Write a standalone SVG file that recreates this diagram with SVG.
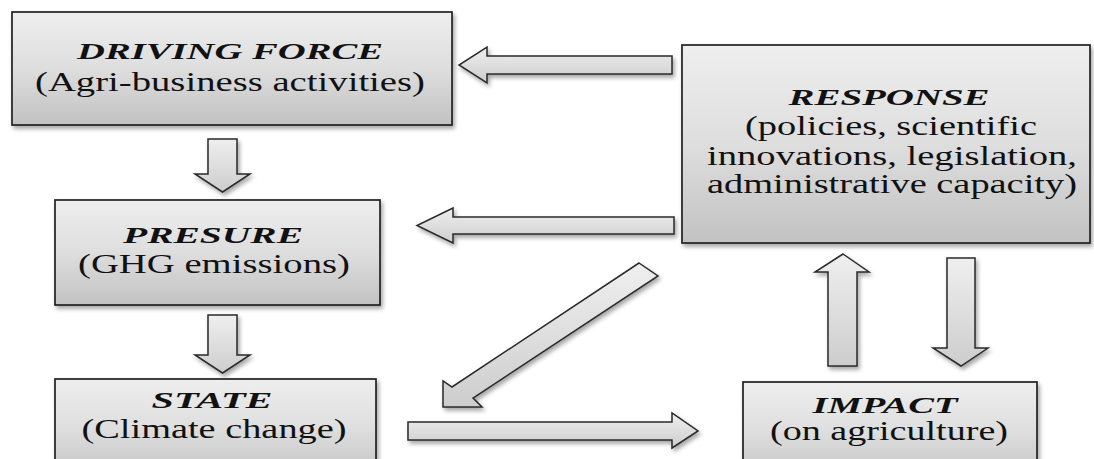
<svg xmlns="http://www.w3.org/2000/svg" width="1094" height="459" viewBox="0 0 1094 459">
  <style>
    .box { fill: url(#boxGrad); stroke: #222222; stroke-width: 1.7; filter: url(#shadow); }
    .arrow { fill: url(#arrowGrad); stroke: #2a2a2a; stroke-width: 1.5; stroke-linejoin: miter; filter: url(#shadow); }
    text { font-family: 'Liberation Serif', 'DejaVu Serif', serif; fill: #111; text-anchor: middle; }
    .title { font-weight: bold; font-style: italic; font-size: 24px; }
    .sub { font-size: 27px; }
  </style>
  <defs>
    <linearGradient id="boxGrad" x1="0" y1="0" x2="0" y2="1">
      <stop offset="0" stop-color="#eeeeee"/>
      <stop offset="0.5" stop-color="#dedede"/>
      <stop offset="1" stop-color="#c2c2c2"/>
    </linearGradient>
    <linearGradient id="arrowGrad" x1="0" y1="0" x2="0" y2="1">
      <stop offset="0" stop-color="#efefef"/>
      <stop offset="1" stop-color="#cdcdcd"/>
    </linearGradient>
    <filter id="shadow" x="-10%" y="-10%" width="130%" height="130%">
      <feDropShadow dx="2" dy="3" stdDeviation="2" flood-color="#000" flood-opacity="0.35"/>
    </filter>
  </defs>
  <rect width="1094" height="459" fill="#ffffff"/>

  <g id="connectors">
    <polygon id="df-to-presure" class="arrow" points="208,139 237,139 237,174 250,174 222.5,192 195,174 208,174"/>
    <polygon id="presure-to-state" class="arrow" points="208,315 237,315 237,355 250,355 222.5,373 195,355 208,355"/>
    <polygon id="response-to-df" class="arrow" points="672,56 672,74 487,74 487,83 459,65 487,47 487,56"/>
    <polygon id="response-to-presure" class="arrow" points="674,217 674,234 453,234 453,243 417,225.5 453,208 453,217"/>
    <polygon id="response-to-state" class="arrow" points="639,263 658,276 473,398 482,407 443,407 443,381 452,387"/>
    <polygon id="state-to-impact" class="arrow" points="408,422 672,422 672,413 698,431 672,448 672,440 408,440"/>
    <polygon id="impact-to-response" class="arrow" points="843,254 869,272 857,272 857,366 828,366 828,272 815,272"/>
    <polygon id="response-to-impact" class="arrow" points="947,258 975,258 975,348 988,348 961,366 933,348 947,348"/>
  </g>

  <g id="driving-force">
    <rect class="box" x="12" y="12" width="440" height="113"/>
    <text class="title" x="230" y="59" textLength="306" lengthAdjust="spacingAndGlyphs">DRIVING FORCE</text>
    <text class="sub" x="230" y="91" textLength="390" lengthAdjust="spacingAndGlyphs">(Agri-business activities)</text>
  </g>

  <g id="presure">
    <rect class="box" x="55" y="200" width="325" height="105"/>
    <text class="title" x="213" y="243" textLength="180" lengthAdjust="spacingAndGlyphs">PRESURE</text>
    <text class="sub" x="214" y="273" textLength="272" lengthAdjust="spacingAndGlyphs">(GHG emissions)</text>
  </g>

  <g id="state">
    <rect class="box" x="55" y="379" width="321" height="100"/>
    <text class="title" x="212" y="408" textLength="121" lengthAdjust="spacingAndGlyphs">STATE</text>
    <text class="sub" x="214" y="438" textLength="265" lengthAdjust="spacingAndGlyphs">(Climate change)</text>
  </g>

  <g id="response">
    <rect class="box" x="682" y="45" width="408" height="198"/>
    <text class="title" x="889" y="105" textLength="201" lengthAdjust="spacingAndGlyphs">RESPONSE</text>
    <text class="sub" x="891" y="135" textLength="292" lengthAdjust="spacingAndGlyphs">(policies, scientific</text>
    <text class="sub" x="892" y="165" textLength="370" lengthAdjust="spacingAndGlyphs">innovations, legislation,</text>
    <text class="sub" x="892" y="193" textLength="370" lengthAdjust="spacingAndGlyphs">administrative capacity)</text>
  </g>

  <g id="impact">
    <rect class="box" x="743" y="382" width="294" height="100"/>
    <text class="title" x="885" y="413" textLength="145" lengthAdjust="spacingAndGlyphs">IMPACT</text>
    <text class="sub" x="889" y="440" textLength="238" lengthAdjust="spacingAndGlyphs">(on agriculture)</text>
  </g>
</svg>
